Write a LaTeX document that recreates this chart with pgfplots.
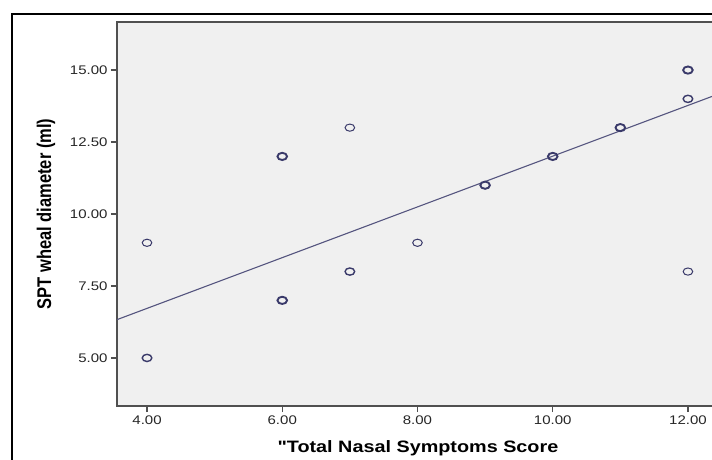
\documentclass[border=0pt]{standalone}
\usepackage{fontspec}
\setmainfont{Liberation Sans}
\newfontfamily\tickfont{Liberation Sans}[FakeStretch=1.2]
\usepackage{pgfplots}
\pgfplotsset{compat=1.18}
\definecolor{plotbg}{HTML}{F0F0F0}
\definecolor{mk}{HTML}{3A3A6A}
\definecolor{fitc}{HTML}{55557F}
\definecolor{frame}{HTML}{505050}
\begin{document}
\begin{tikzpicture}[x=1pt,y=1pt]
  % outer chart frame (cropped on right and bottom)
  \draw[line width=2pt] (12,-30) rectangle (790,445);
  \begin{axis}[
      at={(117pt,53pt)}, anchor=south west,
      scale only axis,
      width=623pt, height=384pt,
      xmin=3.556, xmax=12.77,
      ymin=3.33, ymax=16.67,
      axis background/.style={fill=plotbg},
      axis line style={draw=frame, line width=1.6pt},
      xtick={4,6,8,10,12},
      ytick={5,7.5,10,12.5,15},
      tick align=outside, tick pos=left,
      major tick length=6pt,
      tick style={draw=frame, line width=1.2pt},
      /pgf/number format/.cd, fixed, fixed zerofill, precision=2, assume math mode=true,
      /pgfplots/.cd,
      ticklabel style={font=\tickfont\fontsize{12.5}{14}\selectfont, text=black!85},
      xlabel={{"}Total Nasal Symptoms Score},
      ylabel={SPT wheal diameter (ml)},
      xlabel style={at={(axis description cs:0.483,-0.109)}, anchor=center,
        font=\tickfont\bfseries\fontsize{16.5}{18}\selectfont},
      ylabel style={at={(axis description cs:-0.114,0.5)}, anchor=center, yscale=1.2,
        font=\bfseries\fontsize{16.5}{18}\selectfont},
    ]
    % fit line
    \addplot[fitc, line width=1.1pt] coordinates {(3.556,6.33) (12.77,14.45)};
    % single points
    \addplot[only marks, mark=o, mark size=4pt,
      mark options={draw=mk, xscale=1.2, yscale=0.9, line width=1pt}]
      coordinates {(4,9) (7,13) (8,9) (12,8)};
    % medium points
    \addplot[only marks, mark=o, mark size=4pt,
      mark options={draw=mk, xscale=1.2, yscale=0.9, line width=1.4pt}]
      coordinates {(4,5) (7,8) (12,14)};
    % overlapping points
    \addplot[only marks, mark=o, mark size=4pt,
      mark options={draw=mk, xscale=1.2, yscale=0.9, line width=1.9pt}]
      coordinates {(6,12) (6,7) (9,11) (10,12) (11,13) (12,15)};
  \end{axis}
  \pgfresetboundingbox
  \useasboundingbox (0,0) rectangle (712,459);
\end{tikzpicture}
\end{document}
